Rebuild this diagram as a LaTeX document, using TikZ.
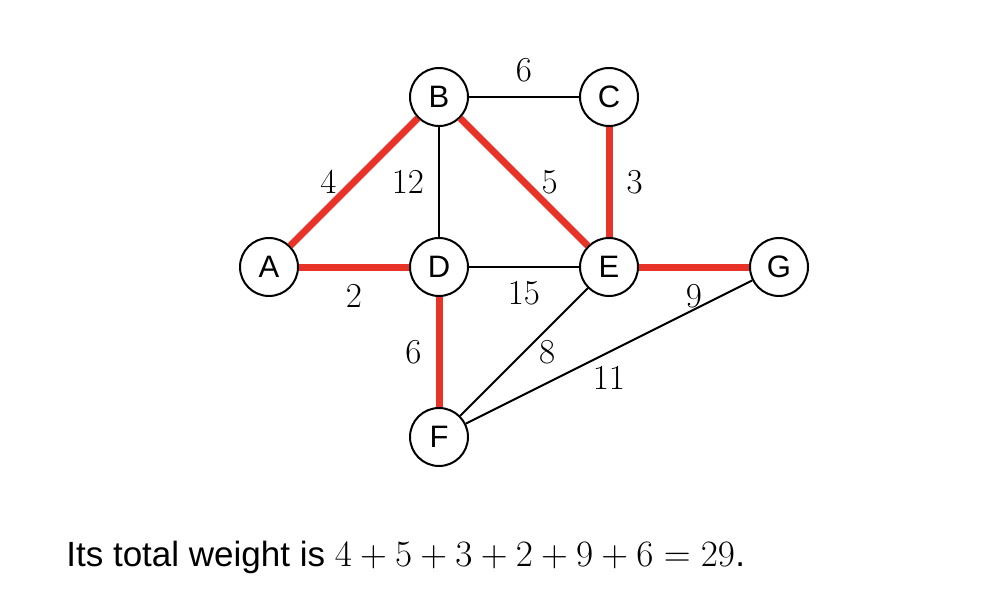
\RequirePackage{fix-cm}
\documentclass[tikz,border=0pt]{standalone}
\usepackage{fontspec}
\setmainfont{Liberation Sans}
\usepackage{tikz}
\usetikzlibrary{positioning}
\definecolor{mstred}{RGB}{232,52,40}

\begin{document}
\begin{tikzpicture}[x=0.5pt, y=-0.5pt,
  vx/.style={draw=black, fill=white, circle, line width=1pt, minimum size=29pt,
             inner sep=0pt, font=\fontsize{15.5}{18}\selectfont},
  ed/.style={black, line width=1pt},
  tree/.style={mstred, line width=3.5pt},
  wt/.style={inner sep=0pt, text=black, font=\fontsize{17.5}{21}\selectfont}
]
\useasboundingbox (0,0) rectangle (1006,610);

\node[vx] (A) at (269,267) {A};
\node[vx] (B) at (439,97)  {B};
\node[vx] (C) at (609,97)  {C};
\node[vx] (D) at (439,267) {D};
\node[vx] (E) at (609,267) {E};
\node[vx] (G) at (779,267) {G};
\node[vx] (F) at (439,437) {F};

% edges not in the tree
\foreach \a/\b/\w/\p in {B/C/6/above, B/D/12/left, D/E/15/below, E/F/8/right, F/G/11/below}
  \draw[ed] (\a) -- node[wt, midway, \p=7pt] {$\w$} (\b);

% minimum spanning tree
\foreach \a/\b/\w/\p in {A/B/4/left, B/E/5/right, C/E/3/right, A/D/2/below, E/G/9/below, D/F/6/left}
  \draw[tree] (\a) -- node[wt, midway, \p=7pt] {$\w$} (\b);

\node[anchor=base west, inner sep=0pt, font=\fontsize{17.5}{21}\selectfont] (sum) at (66,566)
  {Its total weight is {\fontsize{18.6}{22}\selectfont$4+5+3+2+9+6=29$}.};
\end{tikzpicture}
\end{document}
